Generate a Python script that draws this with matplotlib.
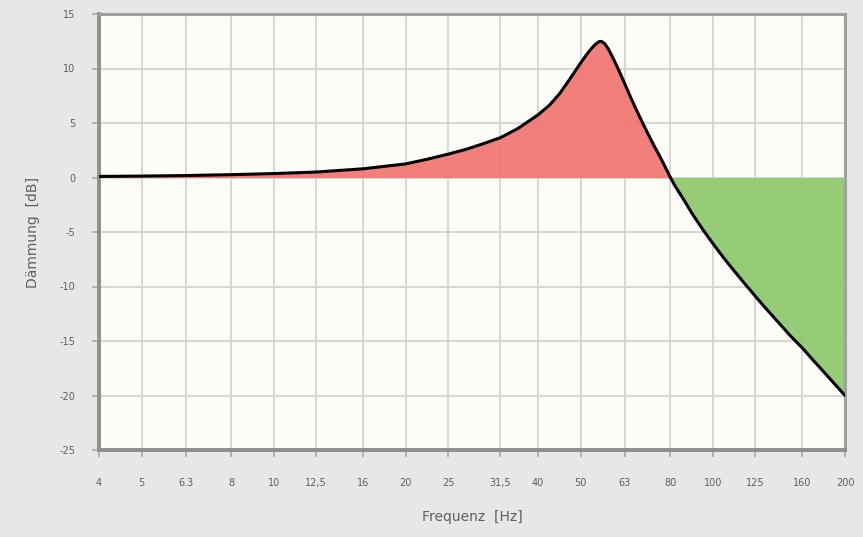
"""
Schwingungsisolierung - Dämmung über Frequenz (Terzbänder 4 ... 200 Hz)
"""

import numpy as np
import matplotlib
matplotlib.use("Agg")
import matplotlib.pyplot as plt
from matplotlib.ticker import FixedLocator, NullLocator

plt.rcParams['axes.unicode_minus'] = False

# Terzband-Beschriftung der x-Achse
band_labels = ["4", "5", "6.3", "8", "10", "12,5", "16", "20", "25", "31,5",
               "40", "50", "63", "80", "100", "125", "160", "200"]
band_pos = [4, 5, 6.3, 8, 10, 12.5, 16, 20, 25, 32.8,
            40, 50, 63, 80, 100, 125, 160, 200]

# Verlauf der Dämmung [dB]
freq = [4, 5, 6.3, 8, 10, 12.5, 16, 20, 22.5, 25, 27.5, 30, 32.8, 36,
        40, 42.5, 44.8, 47, 49.6, 51, 52.2, 53.5, 54.5, 55.3, 56, 56.8,
        57.9, 59, 60.5, 62, 63.1, 65, 67, 69.2, 71.5, 73.5, 75.5, 77.5,
        79.6, 82, 85, 90, 95, 100, 106, 112, 118, 125, 132, 140, 150,
        160, 170, 180, 190, 200]
daemmung = [0.1, 0.13, 0.18, 0.26, 0.36, 0.5, 0.8, 1.25, 1.7, 2.15, 2.6,
            3.1, 3.65, 4.5, 5.75, 6.65, 7.7, 8.9, 10.3, 11.0, 11.55, 12.05,
            12.35, 12.5, 12.45, 12.25, 11.75, 11.1, 10.2, 9.25, 8.55, 7.35,
            6.2, 5.0, 3.85, 2.9, 2.05, 1.15, 0.2, -0.78, -1.75, -3.4,
            -4.8, -6.05, -7.4, -8.6, -9.7, -10.9, -12.0, -13.15, -14.5,
            -15.65, -16.85, -17.95, -19.0, -20.0]

yticks = [15, 10, 5, 0, -5, -10, -15, -20, -25]

bg_color = '#e7e7e7'
plot_bg = '#fdfcf7'
grid_color = '#d4d4d4'
frame_color = '#8f8f8f'
text_color = '#5f5f5f'

fig = plt.figure(figsize=(8.63, 5.37), dpi=100, facecolor=bg_color)
ax = fig.add_axes((99 / 863, 1 - 450 / 537, 746 / 863, 436 / 537))
ax.set_facecolor(plot_bg)

ax.set_xscale('log')
ax.set_xlim(4, 200)
ax.set_ylim(-25, 15)

x = np.array(freq)
y = np.array(daemmung)

# Verstärkung (rot) und Dämmung (grün)
ax.fill_between(x, y, 0, where=y >= 0, interpolate=True,
                color='#f07472', alpha=0.92, linewidth=0, zorder=2)
ax.fill_between(x, y, 0, where=y <= 0, interpolate=True,
                color='#8cc86a', alpha=0.92, linewidth=0, zorder=2)
ax.plot(x, y, color='black', linewidth=2.2, zorder=4,
        solid_joinstyle='round', solid_capstyle='round')

# Gitter
ax.xaxis.set_major_locator(FixedLocator(band_pos))
ax.xaxis.set_minor_locator(NullLocator())
ax.set_xticklabels(band_labels)
ax.set_yticks(yticks)
ax.grid(True, color=grid_color, linewidth=1.3, zorder=1)
ax.set_axisbelow(True)

for side in ['left', 'bottom']:
    ax.spines[side].set_color(frame_color)
    ax.spines[side].set_linewidth(2.8)
for side in ['top', 'right']:
    ax.spines[side].set_color('#a0a0a0')
    ax.spines[side].set_linewidth(2.2)

ax.tick_params(axis='both', which='major', length=5, width=1.2,
               color='#a8a8a8', labelsize=7, labelcolor=text_color)
ax.tick_params(axis='x', pad=15)
ax.tick_params(axis='y', pad=12)

ax.set_xlabel('Frequenz  [Hz]', fontsize=10, color=text_color, labelpad=16)
ax.set_ylabel('Dämmung  [dB]', fontsize=10, color=text_color, labelpad=14)

fig.savefig('out.png', dpi=100, facecolor=bg_color)
plt.close(fig)
